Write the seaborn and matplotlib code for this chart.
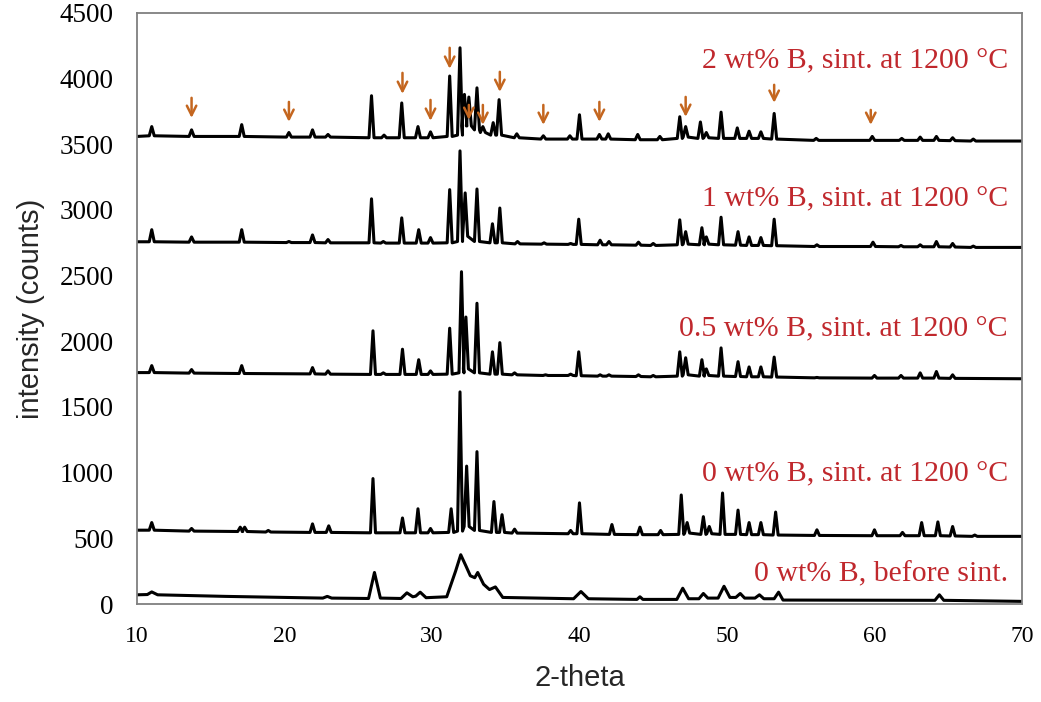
import numpy as np
import matplotlib
matplotlib.use("Agg")
import matplotlib.pyplot as plt
import seaborn as sns

# ---------------- data ----------------
# 2 wt% B, sintered at 1200 C
t2_pos = [11.0, 13.7, 17.1, 20.3, 21.9, 22.95, 25.9, 26.75, 27.95, 29.05, 29.9, 31.2, 31.9, 32.2, 32.5,
          33.05, 33.45, 34.15, 34.55, 35.75, 37.55, 39.35, 40.0, 41.35, 41.95, 43.95, 45.45, 46.8, 47.2,
          48.2, 48.6, 49.6, 50.7, 51.5, 52.3, 53.2, 56.05, 59.85, 61.85, 63.1, 64.2, 65.3, 66.7]
t2_top = [3635, 3610, 3650, 3590, 3610, 3575, 3870, 3570, 3815, 3635, 3595, 4020, 4235, 3880, 3860,
          3930, 3635, 3665, 3840, 3580, 3565, 3565, 3725, 3575, 3580, 3575, 3560, 3710, 3635,
          3670, 3590, 3745, 3625, 3600, 3595, 3735, 3545, 3560, 3545, 3555, 3560, 3550, 3540]
t2_base = [3565, 3560, 3560, 3555, 3555, 3555, 3550, 3550, 3550, 3550, 3550, 3560, 3570, 3640, 3640,
           3610, 3590, 3570, 3570, 3550, 3540, 3540, 3540, 3540, 3540, 3535, 3535, 3545, 3555,
           3545, 3550, 3545, 3545, 3545, 3545, 3540, 3530, 3530, 3530, 3530, 3530, 3528, 3525]
t2_ends = [3560, 3525]

# 1 wt% B, sintered at 1200 C
t1_pos = [11.0, 13.7, 17.1, 20.3, 21.9, 22.95, 25.9, 26.7, 27.95, 29.1, 29.9, 31.2, 31.9, 32.25,
          33.05, 34.1, 34.6, 35.8, 37.6, 39.4, 39.95, 41.4, 42.0, 44.0, 45.0, 46.8, 47.2, 48.3, 48.6,
          49.6, 50.75, 51.5, 52.3, 53.2, 56.1, 59.9, 61.8, 63.1, 64.2, 65.3, 66.7]
t1_top = [2850, 2795, 2850, 2760, 2810, 2775, 3085, 2760, 2940, 2850, 2790, 3155, 3450, 3130,
          3160, 2895, 3015, 2760, 2750, 2745, 2930, 2770, 2760, 2755, 2745, 2925, 2835, 2865, 2795,
          2945, 2835, 2795, 2790, 2930, 2735, 2755, 2730, 2735, 2760, 2745, 2725]
t1_base = [2758, 2755, 2755, 2752, 2752, 2750, 2750, 2748, 2748, 2748, 2748, 2750, 2760, 2800,
           2760, 2750, 2750, 2742, 2740, 2738, 2738, 2735, 2735, 2732, 2730, 2735, 2740, 2735, 2740,
           2735, 2732, 2730, 2730, 2728, 2722, 2722, 2720, 2720, 2720, 2718, 2715]
t1_ends = [2758, 2715]

# 0.5 wt% B, sintered at 1200 C
t05_pos = [11.0, 13.7, 17.1, 21.9, 22.95, 26.0, 26.7, 28.0, 29.1, 29.9, 31.2, 32.0, 32.3, 33.05,
           34.1, 34.6, 35.6, 37.7, 39.4, 39.95, 41.4, 42.0, 44.0, 45.0, 46.8, 47.2, 48.3, 48.6, 49.6,
           50.75, 51.5, 52.3, 53.2, 56.1, 60.0, 61.8, 63.1, 64.2, 65.3]
t05_top = [1815, 1785, 1815, 1800, 1775, 2080, 1760, 1940, 1860, 1775, 2100, 2530, 2185, 2290,
           1920, 1990, 1760, 1745, 1750, 1920, 1745, 1745, 1745, 1740, 1920, 1875, 1860, 1790, 1950,
           1845, 1805, 1805, 1880, 1725, 1740, 1740, 1760, 1770, 1745]
t05_base = [1762, 1758, 1755, 1752, 1750, 1748, 1748, 1748, 1748, 1748, 1750, 1760, 1790, 1760,
            1750, 1750, 1745, 1740, 1740, 1738, 1735, 1735, 1732, 1730, 1735, 1745, 1735, 1740, 1735,
            1732, 1730, 1730, 1728, 1722, 1720, 1720, 1720, 1720, 1718]
t05_ends = [1762, 1715]

# 0 wt% B, sintered at 1200 C
t0_pos = [11.0, 13.7, 17.0, 17.3, 18.9, 21.9, 23.0, 26.0, 28.0, 29.05, 29.9, 31.3, 31.9, 32.35,
          33.05, 34.2, 34.75, 35.6, 39.4, 40.0, 42.2, 44.1, 45.5, 46.9, 47.3, 48.4, 48.8, 49.7, 50.75,
          51.5, 52.3, 53.3, 56.1, 60.0, 61.9, 63.2, 64.3, 65.3, 66.8]
t0_top = [620, 575, 585, 585, 560, 610, 595, 955, 655, 725, 575, 725, 1615, 1050,
          1160, 780, 680, 570, 560, 770, 605, 585, 560, 830, 620, 665, 590, 845, 715,
          620, 620, 700, 565, 565, 545, 620, 625, 590, 525]
t0_base = [562, 555, 552, 552, 548, 545, 545, 542, 542, 542, 542, 545, 555, 590,
           560, 545, 545, 540, 535, 535, 530, 528, 528, 530, 540, 530, 535, 530, 530,
           528, 528, 525, 522, 520, 520, 520, 520, 518, 515]
t0_ends = [562, 515]

# 0 wt% B, before sintering (broad profile vertices)
tb_x = [10, 10.7, 11.0, 11.4, 16, 22.6, 22.9, 23.2, 25.7, 26.1, 26.5, 27.9, 28.3, 28.7, 28.9, 29.2,
        29.6, 31.0, 31.6, 31.95, 32.3, 32.6, 32.9, 33.1, 33.5, 33.9, 34.3, 34.8, 39.6, 40.1, 40.6,
        43.9, 44.1, 44.3, 46.6, 47.0, 47.4, 48.1, 48.4, 48.7, 49.4, 49.8, 50.2, 50.6, 50.9, 51.2,
        51.9, 52.2, 52.5, 53.2, 53.5, 53.8, 64.1, 64.4, 64.7, 70]
tb_y = [70, 72, 92, 70, 58, 45, 58, 45, 42, 240, 45, 42, 85, 55, 60, 90,
        48, 55, 250, 375, 290, 215, 200, 240, 150, 110, 130, 50, 40, 95, 40,
        35, 55, 35, 35, 120, 40, 40, 80, 45, 45, 135, 50, 50, 80, 45,
        45, 70, 40, 40, 90, 30, 28, 70, 28, 20]

labels = ["2 wt% B, sint. at 1200 \u00b0C", "1 wt% B, sint. at 1200 \u00b0C",
          "0.5 wt% B, sint. at 1200 \u00b0C", "0 wt% B, sint. at 1200 \u00b0C",
          "0 wt% B, before sint."]
label_y = [4082, 3024, 2041, 937, 175]

arrow_x = [13.7, 20.3, 28.0, 29.9, 31.2, 32.5, 33.45, 34.6, 37.55, 41.35, 47.2, 53.2, 59.75]
arrow_top = [3854, 3823, 4044, 3838, 4235, 3800, 3800, 4052, 3800, 3823, 3861, 3953, 3762]
arrow_tip = [3701, 3671, 3884, 3679, 4075, 3686, 3648, 3899, 3648, 3671, 3709, 3816, 3648]

xticks = [10, 20, 30, 40, 50, 60, 70]
yticks = [0, 500, 1000, 1500, 2000, 2500, 3000, 3500, 4000, 4500]


def profile(pos, top, base, ends, hw=0.17):
    xs, ys = [10.0], [ends[0]]
    for p, t, b in zip(pos, top, base):
        xs += [p - hw, p, p + hw]
        ys += [b, t, b]
    xs.append(70.0)
    ys.append(ends[1])
    return xs, ys


sns.set_theme(style="white")
plt.rcParams["font.family"] = ["Liberation Serif", "DejaVu Serif"]

fig = plt.figure(figsize=(10.41, 7.02), dpi=100)
ax = fig.add_axes([0.1316, 0.1396, 0.8501, 0.8419])

traces = [profile(t2_pos, t2_top, t2_base, t2_ends),
          profile(t1_pos, t1_top, t1_base, t1_ends),
          profile(t05_pos, t05_top, t05_base, t05_ends),
          profile(t0_pos, t0_top, t0_base, t0_ends),
          (tb_x, tb_y)]
for xs, ys in traces:
    sns.lineplot(x=xs, y=ys, sort=False, estimator=None, color="black", lw=2.2, ax=ax)

for x, yt, yb in zip(arrow_x, arrow_top, arrow_tip):
    ax.annotate("", xy=(x, yb), xytext=(x, yt),
                arrowprops=dict(arrowstyle="->", color="#C4661F", lw=1.8,
                                mutation_scale=17, shrinkA=0, shrinkB=0))

for txt, y in zip(labels, label_y):
    ax.text(69.05, y, txt, ha="right", va="baseline", color="#C0282D", fontsize=21.5,
            family="Liberation Serif")

ax.set_xlim(10, 70)
ax.set_ylim(0, 4500)
ax.set_xticks(xticks)
ax.set_yticks(yticks)
ax.tick_params(axis="both", which="major", direction="out", length=6, width=1.0,
               color="#7f7f7f", labelcolor="black")
ax.tick_params(axis="x", labelsize=17, pad=10)
ax.tick_params(axis="y", labelsize=19.5, pad=11)
for lab in ax.get_xticklabels() + ax.get_yticklabels():
    lab.set_family("Liberation Serif")
for s in ax.spines.values():
    s.set_color("#7f7f7f")
    s.set_linewidth(1.3)
    s.set_visible(True)
ax.set_xlabel("2-theta", fontsize=21, family="Liberation Sans", labelpad=12)
ax.set_ylabel("intensity (counts)", fontsize=21, family="Liberation Sans", labelpad=10)
ax.grid(False)

fig.savefig("out.png", dpi=100)
